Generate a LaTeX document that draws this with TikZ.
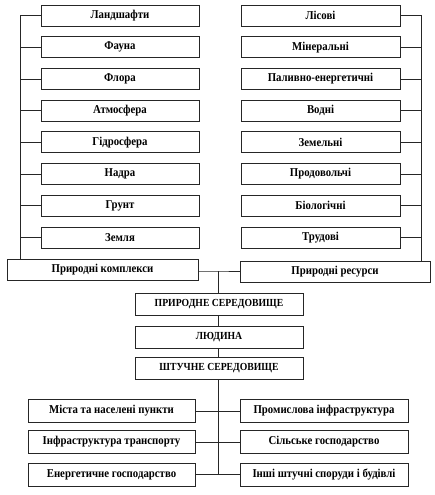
\documentclass[tikz,border=0pt]{standalone}
\usepackage{fontspec}
\setmainfont{Liberation Serif}[FakeStretch=0.9]
\begin{document}
\begin{tikzpicture}[x=1pt,y=-1pt,
  ln/.style={line width=0.8pt,draw=black!85},
  bx/.style={draw=black!85,line width=0.8pt,rectangle,inner sep=0pt,minimum height=21pt,font=\fontsize{12}{14}\selectfont\bfseries},
  lb/.style={bx,minimum width=158pt},
  rb/.style={bx,minimum width=159pt},
  cb/.style={bx,minimum width=168pt,minimum height=22pt,font=\fontsize{10.8}{13}\selectfont\bfseries},
  db/.style={bx,minimum width=167pt,minimum height=23pt}]
\useasboundingbox (0,0) rectangle (434,495);
% left column
\foreach \t [count=\i] in {Ландшафти,Фауна,Флора,Атмосфера,Гідросфера,Надра,Грунт,Земля}
  \node[lb] (l\i) at (120,{15.5+31.7*(\i-1)}) {\t};
\foreach \t [count=\i] in {Лісові,Мінеральні,Паливно-енергетичні,Водні,Земельні,Продовольчі,Біологічні,Трудові}
  \node[rb] (r\i) at (320.5,{15.5+31.7*(\i-1)}) {\t};
\node[bx,minimum width=191pt] (pk) at (102.5,270) {Природні комплекси};
\node[bx,minimum width=190pt] (pr) at (335,272) {Природні ресурси};
\coordinate (lt) at (20,15.5);
\coordinate (lb) at (20,259.5);
\coordinate (rt) at (421,15.5);
\coordinate (rbot) at (421,261.5);
\coordinate (c) at (218,271);
\node[cb] (ps) at (219,304) {ПРИРОДНЕ СЕРЕДОВИЩЕ};
\node[cb] (lu) at (219,337) {ЛЮДИНА};
\node[cb] (ss) at (219,368.5) {ШТУЧНЕ СЕРЕДОВИЩЕ};
\node[db] (b1) at (111.5,411) {Міста та населені пункти};
\node[db] (b2) at (111.5,442) {Інфраструктура транспорту};
\node[db] (b3) at (111.5,474.5) {Енергетичне господарство};
\node[db,minimum width=168pt] (d1) at (324,411) {Промислова інфраструктура};
\node[db,minimum width=168pt] (d2) at (324,442) {Сільське господарство};
\node[db,minimum width=168pt] (d3) at (324,474.5) {Інші штучні споруди і будівлі};
\coordinate (cb) at (218,474.5);
% trunks
\draw[ln] (lt) -- (lb);
\draw[ln] (rt) -- (rbot);
\foreach \i in {1,...,8} {
  \draw[ln] (l\i.west) -- (l\i.west -| lt);
  \draw[ln] (r\i.east) -- (r\i.east -| rt);
}
\draw[ln] (pk.east |- c) -- (c) -- (pr.west |- c);
\draw[ln] (c) -- (c |- ps.north);
\draw[ln] (c |- ps.south) -- (c |- lu.north);
\draw[ln] (c |- lu.south) -- (c |- ss.north);
\draw[ln] (c |- ss.south) -- (cb);
\foreach \i in {1,2,3} {
  \draw[ln] (b\i.east) -- (b\i.east -| c);
  \draw[ln] (d\i.west) -- (d\i.west -| c);
}
\end{tikzpicture}
\end{document}
